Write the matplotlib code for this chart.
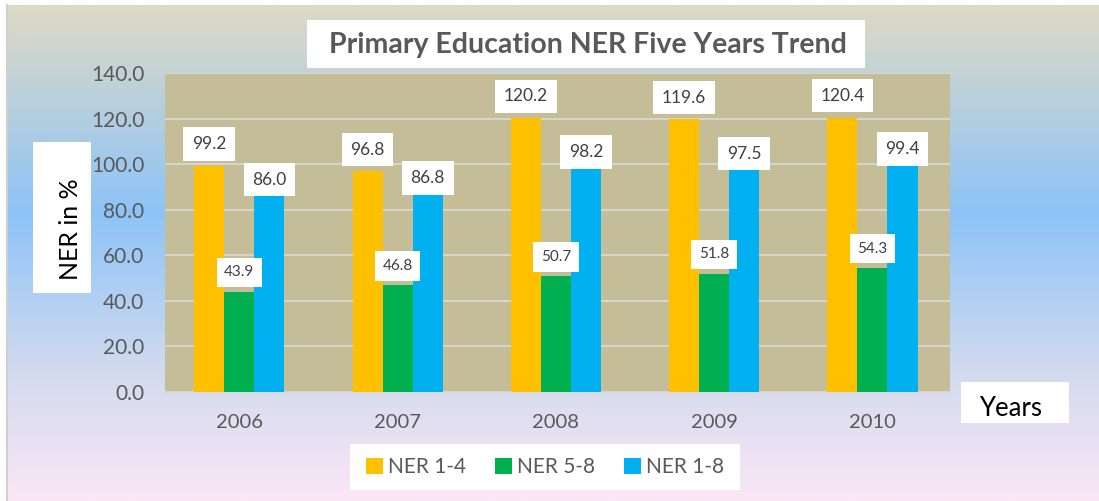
import numpy as np
import matplotlib
matplotlib.use('Agg')
import matplotlib.pyplot as plt
from matplotlib.colors import LinearSegmentedColormap
from matplotlib.patches import Rectangle

plt.rcParams['font.family'] = ['Lato', 'DejaVu Sans']

# data
years = ['2006', '2007', '2008', '2009', '2010']
ner_1_4 = [99.2, 96.8, 120.2, 119.6, 120.4]
ner_5_8 = [43.9, 46.8, 50.7, 51.8, 54.3]
ner_1_8 = [86.0, 86.8, 98.2, 97.5, 99.4]
series_names = ['NER 1-4', 'NER 5-8', 'NER 1-8']
colors = ['#FFC000', '#00B050', '#00B0F0']

W, H = 1099, 501
fig = plt.figure(figsize=(W / 100, H / 100), dpi=100)
fig.patch.set_facecolor('white')


def px_box(x0, y0, x1, y1):
    # white box given in pixel coords (top-left origin)
    fig.add_artist(Rectangle((x0 / W, 1 - y1 / H), (x1 - x0) / W, (y1 - y0) / H,
                             transform=fig.transFigure, fc='white', ec='none', zorder=2))


# background gradient (beige -> light blue -> pink)
bg = fig.add_axes([7 / W, 0, 1 - 7 / W, 1 - 5 / H], zorder=-10)
grad = LinearSegmentedColormap.from_list(
    'bg', [(0.0, '#DEDAC5'), (0.42, '#8DC3F8'), (0.75, '#D4DBEE'), (1.0, '#FAE7F6')])
bg.imshow(np.linspace(0, 1, 256).reshape(-1, 1), aspect='auto', cmap=grad,
          extent=[0, 1, 0, 1])
bg.set_axis_off()
fig.add_artist(plt.Line2D([7 / W, 7 / W], [0, 1 - 5 / H], color='#D0D0D0', lw=1.5))

ax = fig.add_axes([165 / W, 1 - 392 / H, 785 / W, 319 / H])
ax.set_facecolor('#C4BD97')

x = np.arange(len(years))
w = 0.19
all_series = [ner_1_4, ner_5_8, ner_1_8]
label_size = [12.5, 11, 12.5]
label_lift = [10, 9, 6]  # points between bar top and label
for k, (vals, col, name) in enumerate(zip(all_series, colors, series_names)):
    pos = x + (k - 1) * w
    ax.bar(pos, vals, width=w, color=col, label=name, zorder=3)
    for xp, v in zip(pos, vals):
        ax.annotate(f'{v:.1f}', (xp, v), xytext=(0, label_lift[k]), textcoords='offset points',
                    ha='center', va='bottom', fontsize=label_size[k], color='#404040', zorder=5,
                    bbox=dict(boxstyle='square,pad=0.5', fc='white', ec='none'))

ax.set_xlim(-0.47, 4.49)
ax.set_ylim(0, 140)
ax.set_yticks(np.arange(0, 141, 20))
ax.set_yticklabels([f'{t:.1f}' for t in np.arange(0, 141, 20)])
ax.set_xticks(x)
ax.set_xticklabels(years)
ax.tick_params(axis='y', length=0, pad=15, labelsize=15, labelcolor='#595959')
ax.tick_params(axis='x', length=0, pad=16, labelsize=14.5, labelcolor='#595959')
ax.grid(axis='y', color='#D9D9D9', lw=1.2, zorder=1)
for s in ['top', 'right', 'left']:
    ax.spines[s].set_visible(False)
ax.spines['bottom'].set_color('#D9D9D9')

# title
px_box(307, 20, 865, 68)
fig.text(588 / W, 1 - 45 / H, 'Primary Education NER Five Years Trend', ha='center', va='center',
         fontsize=20.5, fontweight='bold', color='#595959', zorder=3)
# y axis title
px_box(33, 142, 91, 293)
fig.text(70 / W, 1 - 229 / H, 'NER in %', rotation=90, ha='center', va='center',
         fontsize=18, color='black', zorder=3)
# x axis title
px_box(961, 382, 1069, 423)
fig.text(1011 / W, 1 - 408 / H, 'Years', ha='center', va='center', fontsize=18.5,
         color='black', zorder=3)

# legend
px_box(350, 444, 740, 490)
leg = fig.legend(loc='center', bbox_to_anchor=(545 / W, 1 - 467 / H), ncol=3, fontsize=15,
                 frameon=False, handlelength=0.8, handleheight=0.8, handletextpad=0.25,
                 columnspacing=1.4, labelcolor='#595959')
leg.set_zorder(4)

fig.savefig('out.png', dpi=100)
